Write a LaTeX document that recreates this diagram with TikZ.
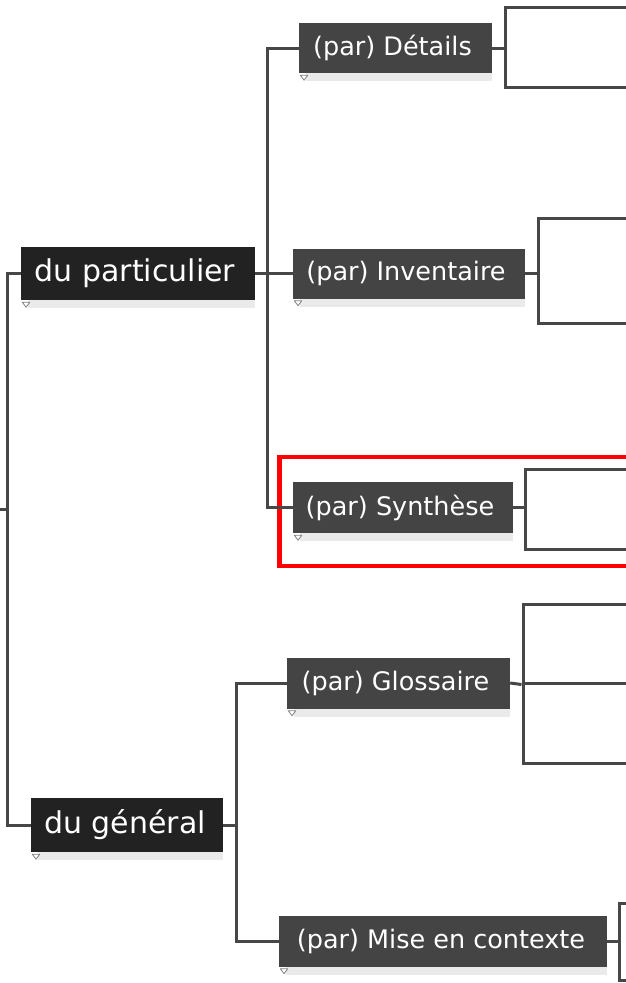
\documentclass[tikz,border=0pt]{standalone}
\usepackage{fontspec}
\setmainfont{DejaVu Sans}
\definecolor{pcol}{HTML}{222222}
\definecolor{ccol}{HTML}{444444}
\definecolor{lcol}{HTML}{474747}
\definecolor{shcol}{HTML}{EAEAEA}
\definecolor{tricol}{HTML}{808080}
\newcommand\mmdeco[1]{%
  \fill[shcol] ([xshift=7pt]#1.south west) rectangle ([yshift=-8pt]#1.south east);
  \draw[tricol,fill=white,line width=0.8pt,line join=round]
    ([xshift=1.5pt,yshift=-2pt]#1.south west) -- ([xshift=9pt,yshift=-2pt]#1.south west)
    -- ([xshift=5.25pt,yshift=-7pt]#1.south west) -- cycle;}
\begin{document}
\begin{tikzpicture}[x=1pt,y=-1pt,
  parentbox/.style={fill=pcol,text=white,inner sep=0pt,font=\fontsize{30}{36}\selectfont},
  childbox/.style={fill=ccol,text=white,inner sep=0pt,font=\fontsize{25.5}{31}\selectfont},
  leafbox/.style={draw=lcol,line width=3pt,fill=white,inner sep=0pt},
  conn/.style={draw=lcol,line width=3pt},
  redframe/.style={draw=red,line width=4.5pt}]
\useasboundingbox (0,0) rectangle (626,983);
\fill[white] (0,0) rectangle (626,983);

% red highlight frame
\draw[redframe] (279.5,457) rectangle (720,566);

% leaf boxes
\node[leafbox,minimum width=195pt,minimum height=80pt] (L1) at (602.5,47) {};
\node[leafbox,minimum width=162pt,minimum height=105pt] (L2) at (619,270.5) {};
\node[leafbox,minimum width=175pt,minimum height=80pt] (L3) at (612.5,509) {};
\node[leafbox,minimum width=177pt,minimum height=79pt] (L4a) at (611.5,643.5) {};
\node[leafbox,minimum width=177pt,minimum height=80pt] (L4b) at (611.5,723) {};
\node[leafbox,minimum width=81pt,minimum height=77pt] (L5) at (659.5,941.5) {};

% parents
\node[parentbox,minimum width=234pt,minimum height=53pt] (P1) at (138,273.5) {du particulier\hspace*{6pt}};
\node[parentbox,minimum width=192pt,minimum height=54pt] (P2) at (127,825) {du général\hspace*{4pt}};

% children
\node[childbox,minimum width=193pt,minimum height=50pt] (C1) at (395.5,48) {(par) Détails\hspace*{6pt}};
\node[childbox,minimum width=232pt,minimum height=50pt] (C2) at (409,273.5) {(par) Inventaire\hspace*{6pt}};
\node[childbox,minimum width=220pt,minimum height=51pt] (C3) at (403,507.5) {(par) Synthèse\hspace*{6pt}};
\node[childbox,minimum width=223pt,minimum height=51pt] (C4) at (398.5,683) {(par) Glossaire\hspace*{6pt}};
\node[childbox,minimum width=328pt,minimum height=51pt] (C5) at (443,941) {(par) Mise en contexte\hspace*{4pt}};

\mmdeco{P1}\mmdeco{P2}\mmdeco{C1}\mmdeco{C2}\mmdeco{C3}\mmdeco{C4}\mmdeco{C5}

% junctions
\coordinate (S0) at (0,509);
\coordinate (J0) at (7,509);
\coordinate (J1) at (267.5,273.5);
\coordinate (J2) at (236,825);

% connectors
\draw[conn] (S0) -- (J0);
\draw[conn] (P1.west) -| (J0) |- (P2.west);
\draw[conn] (P1.east) -- (C2.west);
\draw[conn] (C1.west) -| (J1) |- (C3.west);
\draw[conn] (P2.east) -- (J2);
\draw[conn] (C4.west) -| (J2) |- (C5.west);
\draw[conn] (C1.east) -- (C1.east -| L1.west);
\draw[conn] (C2.east) -- (C2.east -| L2.west);
\draw[conn] (C3.east) -- (C3.east -| L3.west);
\draw[conn] (C4.east) -- (L4a.south west);
\draw[conn] (C5.east) -- (C5.east -| L5.west);
\end{tikzpicture}
\end{document}
